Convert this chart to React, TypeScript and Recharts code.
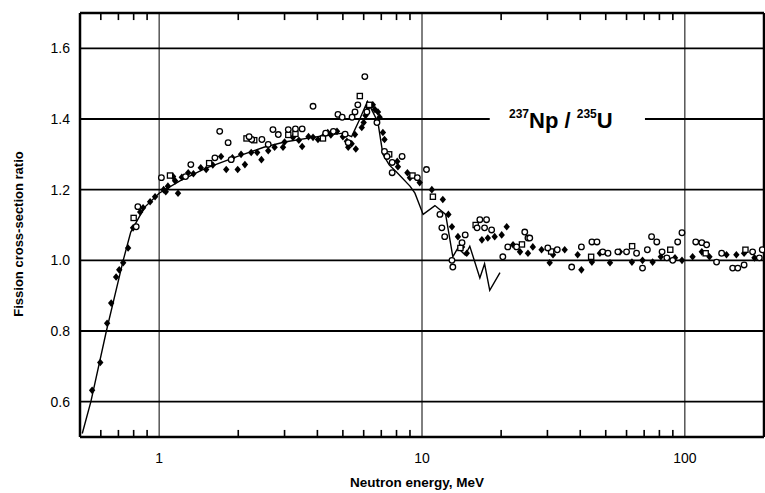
import React from 'react';
import { ScatterChart, Scatter, XAxis, YAxis, ReferenceLine } from 'recharts';

// Evaluation curve (solid line)
const lineEnergy = [0.51, 0.55, 0.63, 0.73, 0.78, 0.88, 1.0, 1.2, 1.5, 2.0, 2.5, 3.0, 4.0, 5.0, 5.4, 5.8, 6.2, 6.5, 6.8, 7.1, 7.5, 8.0, 9.0, 9.4, 10.1, 11.2, 12.3, 13.1, 13.7, 14.6, 15.2, 16.6, 17.3, 18.1, 19.8];
const lineRatio = [0.51, 0.6, 0.8, 1.0, 1.08, 1.15, 1.19, 1.225, 1.26, 1.295, 1.32, 1.335, 1.35, 1.36, 1.35, 1.4, 1.45, 1.42, 1.39, 1.3, 1.27, 1.25, 1.21, 1.19, 1.13, 1.155, 1.13, 1.01, 1.035, 1.015, 1.04, 0.95, 0.99, 0.915, 0.965];

// Filled diamonds
const filledEnergy = [0.556, 0.597, 0.634, 0.657, 0.686, 0.705, 0.73, 0.762, 0.796, 0.847, 0.869, 0.924, 0.965, 1.04, 1.06, 1.18, 1.13, 1.29, 1.44, 1.51, 1.72, 1.80, 1.99, 2.12, 2.24, 2.36, 2.45, 2.96, 3.23, 3.5, 3.85, 4.02, 4.38, 4.75, 5.18, 5.24, 5.56, 5.9, 6.23, 6.62, 6.8, 7.1, 7.2, 8.05, 8.1, 8.8, 9.0, 9.8, 10.9, 12.0, 12.6, 13.0, 13.7, 14.2, 14.8, 16.9, 17.8, 18.9, 20.1, 21.0, 22.2, 23.6, 25.3, 26.4, 28.5, 30.6, 31.5, 34.9, 39.1, 40.4, 44.3, 47.5, 51.9, 56.6, 62.9, 69, 75.4, 81, 91.7, 97.5, 107, 116, 124, 144, 157, 168, 184,
  1.08, 1.15, 1.22, 1.35, 1.6, 1.9, 2.05, 2.6, 2.75, 3.0, 3.4, 3.7, 4.2, 4.5, 5.0, 5.4, 5.6, 6.0, 6.1, 6.5, 6.9];
const filledRatio = [0.632, 0.711, 0.822, 0.879, 0.953, 0.973, 0.993, 1.035, 1.092, 1.137, 1.149, 1.166, 1.18, 1.2, 1.194, 1.19, 1.237, 1.248, 1.262, 1.257, 1.294, 1.257, 1.257, 1.271, 1.305, 1.305, 1.285, 1.32, 1.348, 1.322, 1.348, 1.342, 1.362, 1.365, 1.337, 1.32, 1.356, 1.376, 1.433, 1.427, 1.42, 1.362, 1.342, 1.28, 1.265, 1.248, 1.234, 1.22, 1.2, 1.172, 1.13, 1.095, 1.067, 1.038, 1.02, 1.058, 1.063, 1.067, 1.072, 1.095, 1.044, 1.024, 1.02, 1.038, 1.03, 0.993, 1.016, 1.03, 1.016, 0.973, 0.995, 1.02, 0.993, 1.024, 0.995, 1.0, 0.995, 1.01, 1.007, 1.0, 1.01, 1.024, 1.01, 1.016, 1.016, 1.02, 1.007,
  1.21, 1.225, 1.235, 1.245, 1.27, 1.29, 1.3, 1.31, 1.32, 1.335, 1.34, 1.35, 1.35, 1.355, 1.35, 1.33, 1.315, 1.39, 1.41, 1.44, 1.405];

// Open circles
const circleEnergy = [0.818, 0.83, 1.02, 1.26, 1.32, 1.63, 1.70, 1.83, 1.88, 2.25, 2.46, 2.6, 2.71, 2.84, 3.85, 4.79, 4.97, 5.1, 5.24, 5.42, 5.56, 5.7, 6.06, 6.17, 6.74, 7.2, 7.36, 7.7, 7.7, 8.4, 9.6, 10.4, 11.7, 11.9, 12.2, 13.0, 13.1, 14.2, 14.6, 16.2, 16.6, 17.3, 17.6, 18.4, 20.3, 21.2, 22.9, 24.6, 25.3, 25.7, 30.1, 32.7, 37.1, 40.4, 44.3, 46.3, 48.7, 51, 55.6, 60, 65.5, 69, 72, 74.7, 78.2, 81.9, 85.4, 89.9, 93.9, 97.5, 110, 116, 121, 132, 138, 152, 159, 168, 181, 192, 197,
  3.1, 3.3, 3.5, 4.3, 4.6, 2.2];
const circleRatio = [1.095, 1.152, 1.234, 1.237, 1.271, 1.29, 1.365, 1.333, 1.285, 1.342, 1.342, 1.328, 1.37, 1.356, 1.436, 1.413, 1.405, 1.357, 1.333, 1.405, 1.42, 1.44, 1.52, 1.42, 1.39, 1.308, 1.294, 1.277, 1.248, 1.294, 1.234, 1.257, 1.13, 1.092, 1.067, 1.0, 0.981, 1.05, 1.072, 1.092, 1.115, 1.092, 1.115, 1.086, 1.01, 1.038, 1.038, 1.08, 1.063, 1.063, 1.035, 1.03, 0.981, 1.038, 1.052, 1.052, 1.024, 1.02, 1.024, 1.024, 1.02, 0.978, 1.03, 1.067, 1.052, 1.024, 1.007, 1.0, 1.052, 1.078, 1.052, 1.05, 1.044, 0.995, 1.02, 0.978, 0.978, 0.987, 1.024, 1.007, 1.03,
  1.37, 1.372, 1.372, 1.36, 1.365, 1.35];

// Open squares
const squareEnergy = [0.80, 1.1, 1.55, 2.15, 2.3, 3.1, 3.3, 4.2, 5.8, 6.3, 7.5, 9.2, 11.0, 14.0, 16.0, 24, 31, 44, 63, 88, 120, 170];
const squareRatio = [1.12, 1.24, 1.275, 1.345, 1.34, 1.355, 1.358, 1.345, 1.465, 1.44, 1.3, 1.24, 1.18, 1.035, 1.1, 1.045, 1.025, 1.01, 1.04, 1.03, 1.02, 1.03];

const xMajorTicks = [1, 10, 100];
const xMinorTicks = [0.6, 0.7, 0.8, 0.9, 2, 3, 4, 5, 6, 7, 8, 9, 20, 30, 40, 50, 60, 70, 80, 90];
const yTicks = [0.6, 0.8, 1.0, 1.2, 1.4, 1.6];

const X_MIN = 0.5;
const X_MAX = 200;
const Y_MIN = 0.5;
const Y_MAX = 1.7;
const TICK_ANCHOR = 0.02; // tick marks are anchored just inside the frame

const zip = (xs: number[], ys: number[]) =>
  xs.slice(0, Math.min(xs.length, ys.length)).map((x, i) => ({ x, y: ys[i] }));

const lineData = zip(lineEnergy, lineRatio);
const filledData = zip(filledEnergy, filledRatio);
const circleData = zip(circleEnergy, circleRatio);
const squareData = zip(squareEnergy, squareRatio);
const bottomTickData = xMinorTicks.map((x) => ({ x, y: Y_MIN + TICK_ANCHOR }));
const topTickData = xMinorTicks.map((x) => ({ x, y: Y_MAX - TICK_ANCHOR }));

const FONT = "'Liberation Sans', Arial, Helvetica, sans-serif";

const OpenCircle = (p: any) => (
  <circle cx={p.cx} cy={p.cy} r={2.8} fill="#fff" stroke="#000" strokeWidth={1.3} />
);
const FilledDiamond = (p: any) => (
  <path
    d={`M${p.cx},${p.cy - 3.8}L${p.cx + 3.2},${p.cy}L${p.cx},${p.cy + 3.8}L${p.cx - 3.2},${p.cy}Z`}
    fill="#000"
  />
);
const OpenSquare = (p: any) => (
  <rect x={p.cx - 2.6} y={p.cy - 2.6} width={5.2} height={5.2} fill="#fff" stroke="#000" strokeWidth={1.3} />
);
const TickBottom = (p: any) => <rect x={p.cx - 0.8} y={p.cy} width={1.6} height={8} fill="#000" />;
const TickTop = (p: any) => <rect x={p.cx - 0.8} y={p.cy - 8} width={1.6} height={8} fill="#000" />;
const NoShape = () => <g />;

const GRID = { stroke: '#000', strokeWidth: 1.8 };

export default function App() {
  return (
    <div style={{ position: 'absolute', left: 0, top: 0, width: 765, height: 493, background: '#fff' }}>
      <ScatterChart width={765} height={493} margin={{ top: 13, right: 1, left: 30, bottom: 16 }}>
        <XAxis
          xAxisId="bottom"
          dataKey="x"
          type="number"
          scale="log"
          domain={[X_MIN, X_MAX]}
          allowDataOverflow
          ticks={xMajorTicks}
          height={40}
          tickLine={false}
          tickMargin={10}
          tick={{ fill: '#000', fontSize: 14, fontFamily: FONT }}
          axisLine={{ stroke: '#000', strokeWidth: 2.5 }}
        />
        <YAxis
          dataKey="y"
          type="number"
          domain={[Y_MIN, Y_MAX]}
          allowDataOverflow
          ticks={yTicks}
          width={50}
          tickLine={false}
          tickSize={6}
          tickMargin={4}
          tickFormatter={(v: number) => v.toFixed(1)}
          tick={{ fill: '#000', fontSize: 14, fontFamily: FONT }}
          axisLine={{ stroke: '#000', strokeWidth: 2.5 }}
        />
        <ReferenceLine xAxisId="bottom" x={xMajorTicks[0]} stroke="#000" strokeWidth={1} />
        <ReferenceLine xAxisId="bottom" x={xMajorTicks[1]} stroke="#000" strokeWidth={1} />
        <ReferenceLine xAxisId="bottom" x={xMajorTicks[2]} stroke="#000" strokeWidth={1} />
        <ReferenceLine xAxisId="bottom" x={X_MAX} stroke="#000" strokeWidth={2.5} />
        <ReferenceLine xAxisId="bottom" y={Y_MAX} stroke="#000" strokeWidth={2.5} />
        <ReferenceLine xAxisId="bottom" y={yTicks[0]} {...GRID} />
        <ReferenceLine xAxisId="bottom" y={yTicks[1]} {...GRID} />
        <ReferenceLine xAxisId="bottom" y={yTicks[2]} {...GRID} />
        <ReferenceLine xAxisId="bottom" y={yTicks[3]} {...GRID} />
        <ReferenceLine xAxisId="bottom" y={yTicks[5]} {...GRID} />
        <ReferenceLine xAxisId="bottom" segment={[{ x: X_MIN, y: yTicks[4] }, { x: 18.1, y: yTicks[4] }]} {...GRID} />
        <ReferenceLine xAxisId="bottom" segment={[{ x: 70.5, y: yTicks[4] }, { x: X_MAX, y: yTicks[4] }]} {...GRID} />
        <Scatter xAxisId="bottom" data={bottomTickData} shape={TickBottom} isAnimationActive={false} />
        <Scatter xAxisId="bottom" data={topTickData} shape={TickTop} isAnimationActive={false} />
        <Scatter
          xAxisId="bottom"
          data={lineData}
          line={{ stroke: '#000', strokeWidth: 1.4 }}
          shape={NoShape}
          isAnimationActive={false}
        />
        <Scatter xAxisId="bottom" data={filledData} shape={FilledDiamond} isAnimationActive={false} />
        <Scatter xAxisId="bottom" data={squareData} shape={OpenSquare} isAnimationActive={false} />
        <Scatter xAxisId="bottom" data={circleData} shape={OpenCircle} isAnimationActive={false} />
      </ScatterChart>
      <svg
        width={765}
        height={493}
        style={{ position: 'absolute', left: 0, top: 0, pointerEvents: 'none' }}
      >
        <text
          x={18}
          y={234}
          transform="rotate(-90 18 234)"
          textAnchor="middle"
          dominantBaseline="central"
          fontFamily={FONT}
          fontWeight="bold"
          fontSize={13}
          fill="#000"
        >
          Fission cross-section ratio
        </text>
        <text
          x={417}
          y={482}
          textAnchor="middle"
          dominantBaseline="central"
          fontFamily={FONT}
          fontWeight="bold"
          fontSize={13.5}
          fill="#000"
        >
          Neutron energy, MeV
        </text>
        <text x={509} y={128} fontFamily={FONT} fontWeight="bold" fill="#000">
          <tspan fontSize={12} dy={-10}>237</tspan>
          <tspan fontSize={22} dy={10}>Np / </tspan>
          <tspan fontSize={12} dy={-10}>235</tspan>
          <tspan fontSize={22} dy={10}>U</tspan>
        </text>
      </svg>
    </div>
  );
}
